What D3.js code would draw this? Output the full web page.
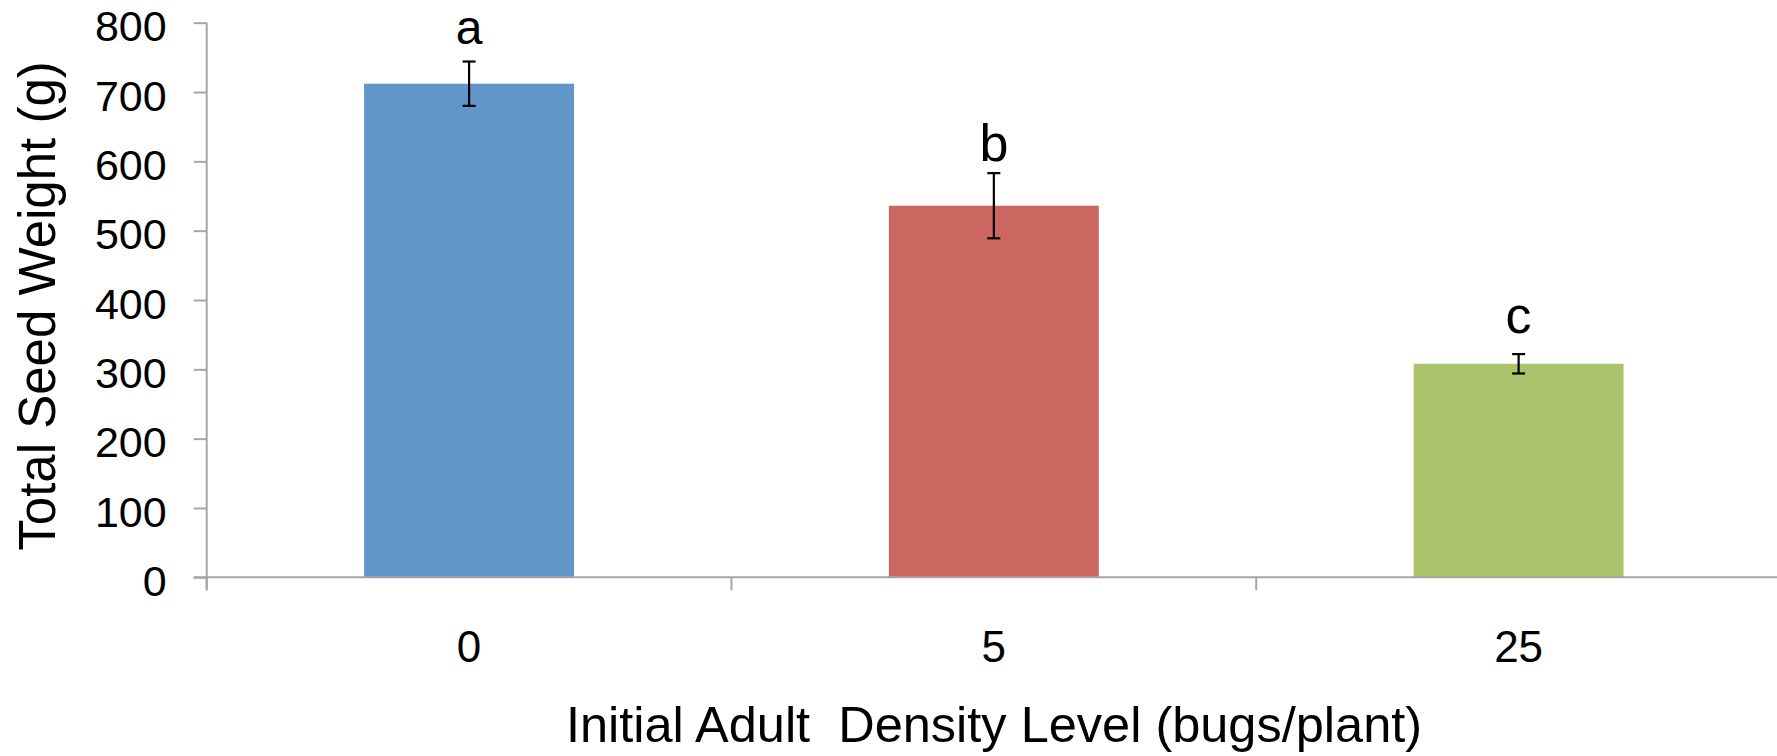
<!DOCTYPE html>
<html>
<head>
<meta charset="utf-8">
<script src="https://cdnjs.cloudflare.com/ajax/libs/d3/7.8.5/d3.min.js"></script>
<style>
  html, body { margin: 0; padding: 0; background: #fff; }
  svg { display: block; font-family: "Liberation Sans", Arial, sans-serif; }
</style>
</head>
<body>
<script>
// ---- data ----
const categories = ["0", "5", "25"];
const means = [712, 536, 308];
const errors = [32, 47, 14];
const letters = ["a", "b", "c"];
const letterValues = [769, 600, 353];
const barColors = ["#6096C8", "#CC6660", "#AAC46C"];
const yTicks = [0, 100, 200, 300, 400, 500, 600, 700, 800];
const yTitle = "Total Seed Weight (g)";
const xTitle = "Initial Adult  Density Level (bugs/plant)";

(function () {
// ---- layout ----
const W = 1777, H = 756;
const mLeft = 206.7, mTop = 22.7, mBottom = 577.3, mRight = 1781;
const axisColor = "#A6A6A6";

const svg = d3.select("body").append("svg").attr("width", W).attr("height", H);

const y = d3.scaleLinear().domain([0, 800]).range([mBottom, mTop]);
const x = d3.scaleBand().domain(categories).range([mLeft, mRight])
  .paddingInner(0.6).paddingOuter(0.3);
const step = x.step();

// bars
svg.append("g").selectAll("rect").data(categories).join("rect")
  .attr("x", d => x(d))
  .attr("width", x.bandwidth())
  .attr("y", (d, i) => y(means[i]))
  .attr("height", (d, i) => y(0) - y(means[i]))
  .attr("fill", (d, i) => barColors[i]);

// y axis
const yAxis = svg.append("g").attr("transform", `translate(${mLeft},0)`)
  .call(d3.axisLeft(y).tickValues(yTicks).tickSize(13).tickPadding(27).tickFormat(d3.format("d")));
yAxis.select(".domain").remove();
yAxis.selectAll(".tick line").attr("stroke", axisColor).attr("stroke-width", 2);
yAxis.selectAll(".tick text").attr("font-size", 43).attr("fill", "#000").attr("dy", "0.42em")
  .attr("font-family", "Liberation Sans, Arial, sans-serif");
svg.append("line").attr("x1", mLeft).attr("x2", mLeft).attr("y1", mTop).attr("y2", mBottom + 13)
  .attr("stroke", axisColor).attr("stroke-width", 2);

// x axis
svg.append("line").attr("x1", mLeft - 13).attr("x2", W).attr("y1", mBottom).attr("y2", mBottom)
  .attr("stroke", axisColor).attr("stroke-width", 2);
const boundaries = d3.range(categories.length + 1).map(i => mLeft + i * step);
svg.append("g").selectAll("line").data(boundaries).join("line")
  .attr("x1", d => d).attr("x2", d => d).attr("y1", mBottom).attr("y2", mBottom + 13)
  .attr("stroke", axisColor).attr("stroke-width", 2);
const xAxis = svg.append("g").attr("transform", `translate(0,${mBottom})`)
  .call(d3.axisBottom(x).tickSize(0));
xAxis.select(".domain").remove();
xAxis.selectAll(".tick text").attr("font-size", 44).attr("fill", "#000")
  .attr("y", 85).attr("dy", 0).attr("font-family", "Liberation Sans, Arial, sans-serif");

// error bars
const eb = svg.append("g").attr("stroke", "#000").attr("stroke-width", 2.2);
categories.forEach((c, i) => {
  const cx = x(c) + x.bandwidth() / 2;
  const y1 = y(means[i] + errors[i]), y2 = y(means[i] - errors[i]);
  eb.append("line").attr("x1", cx).attr("x2", cx).attr("y1", y1).attr("y2", y2);
  eb.append("line").attr("x1", cx - 6.5).attr("x2", cx + 6.5).attr("y1", y1).attr("y2", y1);
  eb.append("line").attr("x1", cx - 6.5).attr("x2", cx + 6.5).attr("y1", y2).attr("y2", y2);
});

// significance letters
svg.append("g").selectAll("text").data(letters).join("text")
  .attr("x", (d, i) => x(categories[i]) + x.bandwidth() / 2)
  .attr("y", (d, i) => y(letterValues[i]))
  .attr("text-anchor", "middle").attr("font-size", (d, i) => i === 0 ? 48 : 52).attr("fill", "#000")
  .text(d => d);

// axis titles
svg.append("text").attr("transform", `translate(55,${(mTop + mBottom) / 2 + 6}) rotate(-90)`)
  .attr("text-anchor", "middle").attr("font-size", 51).attr("fill", "#000")
  .text(yTitle);
svg.append("text").attr("x", 994).attr("y", 742)
  .attr("text-anchor", "middle").attr("font-size", 50.5).attr("fill", "#000")
  .style("white-space", "pre")
  .text(xTitle);
})();
</script>
</body>
</html>
